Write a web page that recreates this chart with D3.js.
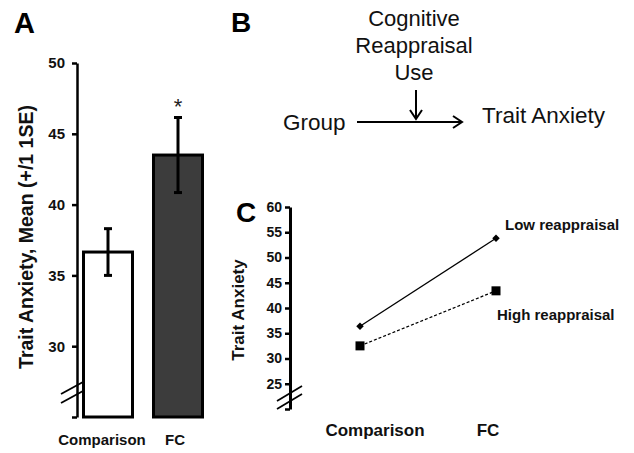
<!DOCTYPE html>
<html><head><meta charset="utf-8">
<script src="https://cdn.jsdelivr.net/npm/d3@7"></script>
<style>
body{margin:0;background:#fff;}
svg{display:block;font-family:"Liberation Sans",Arial,sans-serif;}
</style></head>
<body>
<script>
// Panel A data
const groups = ["Comparison", "FC"];
const meanA = [36.65, 43.5];
const seA = [1.65, 2.65];
const ticksA = [25, 30, 35, 40, 45, 50];
// Panel C data
const lowReappraisal = [36.4, 53.8];
const highReappraisal = [32.5, 43.4];
const ticksC = [20, 25, 30, 35, 40, 45, 50, 55, 60];
const seriesNames = ["Low reappraisal", "High reappraisal"];

const svg = d3.select("body").append("svg").attr("width", 634).attr("height", 453);

// ---------- Panel A ----------
const yA = d3.scaleLinear().domain([25, 50]).range([417, 63]);
const xA = d3.scaleBand().domain(groups).range([80, 206]).paddingInner(0.3).paddingOuter(0.05);

svg.append("text").attr("x", 14).attr("y", 33).attr("font-size", 29).attr("font-weight", "bold").text("A");

const axA = svg.append("g").attr("transform", "translate(77,0)")
  .call(d3.axisLeft(yA).tickValues(ticksA).tickSize(5).tickSizeOuter(0).tickPadding(7)
    .tickFormat(d => d === 25 ? "" : d));
axA.select(".domain").attr("stroke", "#000").attr("stroke-width", 2.5);
axA.selectAll(".tick line").attr("stroke", "#000").attr("stroke-width", 2.5);
axA.selectAll(".tick text").attr("font-size", 15).attr("font-weight", "bold").attr("fill", "#111")
  .attr("font-family", "Liberation Sans, Arial, sans-serif");

// break marks A
[0, 9].forEach(o => {
  svg.append("line").attr("x1", 61).attr("y1", 403 - o).attr("x2", 83).attr("y2", 391 - o)
    .attr("stroke", "#000").attr("stroke-width", 1.8);
});

const barFill = ["#ffffff", "#3c3c3c"];
svg.append("g").selectAll("rect").data(groups).join("rect")
  .attr("x", d => xA(d)).attr("width", xA.bandwidth())
  .attr("y", (d, i) => yA(meanA[i])).attr("height", (d, i) => yA(25) - yA(meanA[i]))
  .attr("fill", (d, i) => barFill[i]).attr("stroke", "#000").attr("stroke-width", 3);

const eg = svg.append("g");
groups.forEach((g, i) => {
  const cx = xA(g) + xA.bandwidth() / 2;
  eg.append("line").attr("x1", cx).attr("x2", cx).attr("y1", yA(meanA[i] - seA[i])).attr("y2", yA(meanA[i] + seA[i]))
    .attr("stroke", "#000").attr("stroke-width", 3);
  [meanA[i] - seA[i], meanA[i] + seA[i]].forEach(v => {
    eg.append("line").attr("x1", cx - 4).attr("x2", cx + 4).attr("y1", yA(v)).attr("y2", yA(v))
      .attr("stroke", "#000").attr("stroke-width", 3);
  });
  svg.append("text").attr("x", cx - (i === 0 ? 6 : 3)).attr("y", 445).attr("text-anchor", "middle")
    .attr("font-size", 15).attr("font-weight", "bold").attr("fill", "#111").text(g);
});
svg.append("text").attr("x", xA("FC") + xA.bandwidth() / 2).attr("y", yA(meanA[1] + seA[1]) - 4)
  .attr("text-anchor", "middle").attr("font-size", 22).attr("fill", "#222").text("*");

svg.append("text").attr("transform", "translate(33,237) rotate(-90)").attr("text-anchor", "middle")
  .attr("font-size", 19.5).attr("font-weight", "bold").attr("fill", "#111").text("Trait Anxiety, Mean (+/1 1SE)");

// ---------- Panel B ----------
svg.append("text").attr("x", 231).attr("y", 32).attr("font-size", 28).attr("font-weight", "bold").text("B");
const bLines = ["Cognitive", "Reappraisal", "Use"];
svg.append("g").selectAll("text").data(bLines).join("text")
  .attr("x", 414).attr("y", (d, i) => 26 + i * 27).attr("text-anchor", "middle")
  .attr("font-size", 22).attr("fill", "#111").text(d => d);
svg.append("text").attr("x", 283).attr("y", 130).attr("font-size", 22.5).attr("fill", "#111").text("Group");
svg.append("text").attr("x", 482).attr("y", 123).attr("font-size", 22.5).attr("fill", "#111").text("Trait Anxiety");
svg.append("line").attr("x1", 357).attr("x2", 461).attr("y1", 122).attr("y2", 122).attr("stroke", "#000").attr("stroke-width", 2);
svg.append("path").attr("d", "M453,116 L462,122 L453,128").attr("fill", "none").attr("stroke", "#000").attr("stroke-width", 2);
svg.append("line").attr("x1", 416).attr("x2", 416).attr("y1", 90).attr("y2", 118).attr("stroke", "#000").attr("stroke-width", 2);
svg.append("path").attr("d", "M410,110 L416,119 L422,110").attr("fill", "none").attr("stroke", "#000").attr("stroke-width", 2);

// ---------- Panel C ----------
const yC = d3.scaleLinear().domain([20, 60]).range([409, 207]);
const xC = d3.scalePoint().domain(groups).range([360, 496]);
const xCLab = d3.scalePoint().domain(groups).range([375, 488]);

svg.append("text").attr("x", 236).attr("y", 222).attr("font-size", 28).attr("font-weight", "bold").text("C");

const axC = svg.append("g").attr("transform", "translate(290,0)")
  .call(d3.axisLeft(yC).tickValues(ticksC).tickSize(5).tickSizeOuter(0).tickPadding(3)
    .tickFormat(d => d === 20 ? "" : d));
axC.select(".domain").attr("stroke", "#000").attr("stroke-width", 3);
axC.selectAll(".tick line").attr("stroke", "#000").attr("stroke-width", 2.5);
axC.selectAll(".tick text").attr("font-size", 14).attr("font-weight", "bold").attr("fill", "#111")
  .attr("font-family", "Liberation Sans, Arial, sans-serif");

[0, 8].forEach(o => {
  svg.append("line").attr("x1", 277).attr("y1", 409 - o).attr("x2", 302).attr("y2", 394 - o)
    .attr("stroke", "#000").attr("stroke-width", 1.8);
});

svg.append("text").attr("transform", "translate(244,310) rotate(-90)").attr("text-anchor", "middle")
  .attr("font-size", 17).attr("font-weight", "bold").attr("fill", "#111").text("Trait Anxiety");

const line = d3.line().x((d, i) => xC(groups[i])).y(d => yC(d));
svg.append("path").datum(lowReappraisal).attr("d", line).attr("fill", "none").attr("stroke", "#000").attr("stroke-width", 1.3);
svg.append("path").datum(highReappraisal).attr("d", line).attr("fill", "none").attr("stroke", "#000")
  .attr("stroke-width", 1.3).attr("stroke-dasharray", "3,2");

svg.append("g").selectAll("path").data(lowReappraisal).join("path")
  .attr("d", d3.symbol(d3.symbolDiamond2, 36)())
  .attr("transform", (d, i) => `translate(${xC(groups[i])},${yC(d)})`).attr("fill", "#000");
svg.append("g").selectAll("rect").data(highReappraisal).join("rect")
  .attr("x", (d, i) => xC(groups[i]) - 4.5).attr("y", d => yC(d) - 4.5).attr("width", 9).attr("height", 9).attr("fill", "#000");

svg.append("g").selectAll("text").data(groups).join("text")
  .attr("x", d => xCLab(d)).attr("y", 436).attr("text-anchor", "middle")
  .attr("font-size", 17).attr("font-weight", "bold").attr("fill", "#111").text(d => d);

svg.append("text").attr("x", 505).attr("y", 230).attr("font-size", 15).attr("font-weight", "bold").attr("fill", "#111").text(seriesNames[0]);
svg.append("text").attr("x", 497).attr("y", 320).attr("font-size", 15).attr("font-weight", "bold").attr("fill", "#111").text(seriesNames[1]);
</script>
</body></html>
